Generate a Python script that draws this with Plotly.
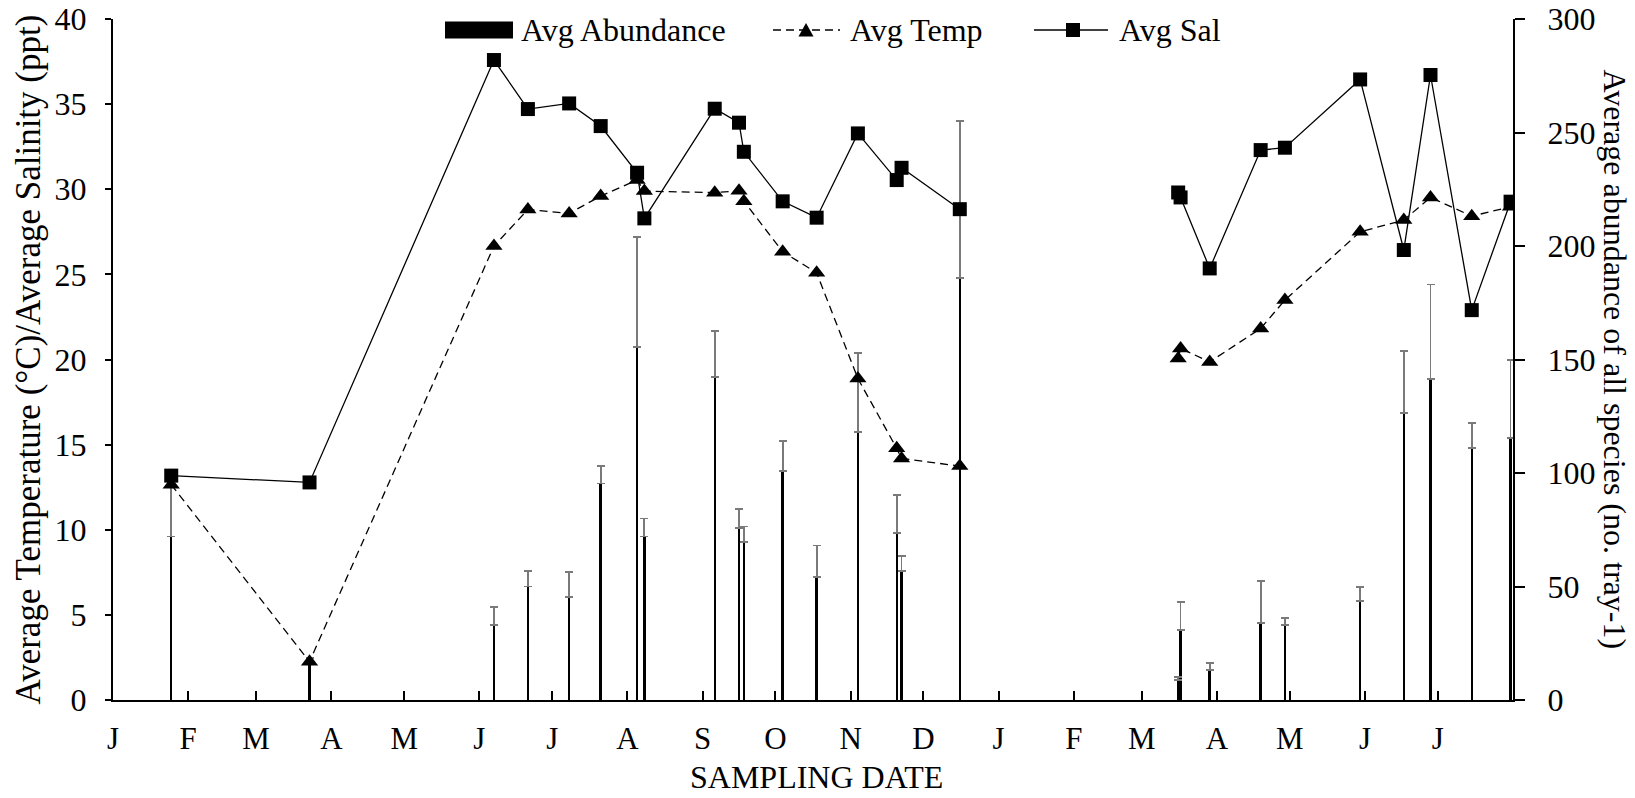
import plotly.graph_objects as go
import pandas as pd

# ---------------- data ----------------
dates_y1 = ["2010-01-25", "2010-03-23", "2010-06-07", "2010-06-21", "2010-07-08", "2010-07-21",
            "2010-08-05", "2010-08-08", "2010-09-06", "2010-09-16", "2010-09-18", "2010-10-04",
            "2010-10-18", "2010-11-04", "2010-11-20", "2010-11-22", "2010-12-16"]
temp_y1 = [12.65, 2.25, 26.66, 28.81, 28.58, 29.6, 30.54, 29.89, 29.8, 29.91, 29.3, 26.33,
           25.09, 18.88, 14.78, 14.19, 13.74]
sal_y1 = [13.18, 12.78, 37.59, 34.71, 35.04, 33.71, 30.97, 28.29, 34.73, 33.91, 32.2, 29.29,
          28.33, 33.28, 30.54, 31.26, 28.83]
abund_y1 = [72, 16, 33, 50, 45.5, 95.4, 155.6, 72, 142.4, 75.6, 69.5, 101, 54.3, 118, 73.7, 57, 186]
abund_err_y1 = [24, 2.4, 8, 7, 11, 7.6, 48.4, 8, 20.2, 8.7, 6.9, 13, 13.8, 34.7, 16.6, 6.6, 69]

dates_y2 = ["2011-03-16", "2011-03-17", "2011-03-29", "2011-04-19", "2011-04-29", "2011-05-30",
            "2011-06-17", "2011-06-28", "2011-07-15", "2011-07-31"]
temp_y2 = [20.06, 20.65, 19.86, 21.82, 23.49, 27.5, 28.19, 29.52, 28.42, 28.97]
sal_y2 = [29.81, 29.52, 25.35, 32.3, 32.44, 36.45, 26.43, 36.71, 22.9, 29.27]
abund_y2 = [8.8, 30.8, 13.2, 33.8, 32.9, 43.6, 126.6, 141.3, 110.9, 115.3]
abund_err_y2 = [1.5, 12.3, 3, 18.6, 3.2, 6.2, 27.1, 41.7, 11.3, 34.5]

month_ticks = [d.strftime("%Y-%m-%d") for d in pd.date_range("2010-01-01", "2011-07-01", freq="MS")]
month_labels = ["J", "F", "M", "A", "M", "J", "J", "A", "S", "O", "N", "D",
                "J", "F", "M", "A", "M", "J", "J"]

# ---------------- figure ----------------
W, H = 1635, 798
L, R, T, B = 113, 122, 19, 98
FONT = "'Liberation Serif', 'Times New Roman', Times, serif"

fig = go.Figure()

bar_x = dates_y1 + dates_y2
bar_y = abund_y1 + abund_y2
bar_err = abund_err_y1 + abund_err_y2
fig.add_trace(go.Bar(
    x=bar_x, y=bar_y, name="Avg Abundance", yaxis="y",
    width=[86400000 * 1.0] * len(bar_x),
    marker=dict(color="black", line=dict(width=0)),
    error_y=dict(type="data", symmetric=False, array=bar_err, arrayminus=[0] * len(bar_err),
                 color="#7a7a7a", thickness=1.8, width=4),
))

line_x = dates_y1 + [None] + dates_y2
fig.add_trace(go.Scatter(
    x=line_x, y=temp_y1 + [None] + temp_y2, name="Avg Temp", yaxis="y2",
    mode="lines+markers", connectgaps=False,
    line=dict(color="black", width=1.3, dash="8px,5px"),
    marker=dict(symbol="triangle-up", size=15, color="black"),
))
fig.add_trace(go.Scatter(
    x=line_x, y=sal_y1 + [None] + sal_y2, name="Avg Sal", yaxis="y2",
    mode="lines+markers", connectgaps=False,
    line=dict(color="black", width=1.3),
    marker=dict(symbol="square", size=14, color="black"),
))

fig.update_layout(
    width=W, height=H,
    margin=dict(l=L, r=R, t=T, b=B, pad=0, autoexpand=False),
    paper_bgcolor="white", plot_bgcolor="white",
    font=dict(family=FONT, size=31, color="black"),
    showlegend=False, bargap=0,
    xaxis=dict(
        type="date", range=["2010-01-01", "2011-08-01"],
        tickmode="array", tickvals=month_ticks, ticktext=month_labels,
        ticks="inside", ticklen=9, tickwidth=2, tickcolor="black",
        showline=True, linewidth=2, linecolor="black", automargin=False,
        showgrid=False, zeroline=False, ticklabelstandoff=10,
        tickfont=dict(family=FONT, size=31),
    ),
    yaxis=dict(
        range=[0, 300], dtick=50, side="right", automargin=False,
        ticks="outside", ticklen=10, tickwidth=2, tickcolor="black",
        showline=True, linewidth=2, linecolor="black",
        showgrid=False, zeroline=False, ticklabelstandoff=16,
        tickfont=dict(family=FONT, size=32),
    ),
    yaxis2=dict(
        range=[0, 40], dtick=5, side="left", overlaying="y", automargin=False,
        ticks="outside", ticklen=6, tickwidth=2, tickcolor="black",
        showline=True, linewidth=2, linecolor="black",
        showgrid=False, zeroline=False, ticklabelstandoff=12,
        tickfont=dict(family=FONT, size=32),
    ),
)

PW = W - L - R
PH = H - T - B


def px(x):
    return (x - L) / PW


def py(y):
    return (H - B - y) / PH


annotations = [
    dict(text="Average Temperature (°C)/Average Salinity (ppt)", x=px(28), y=0.5,
         xref="paper", yref="paper", textangle=-90, showarrow=False,
         xanchor="center", yanchor="middle", font=dict(family=FONT, size=35)),
    dict(text="Average abundance of all species (no. tray-1)", x=px(1615), y=0.5,
         xref="paper", yref="paper", textangle=90, showarrow=False,
         xanchor="center", yanchor="middle", font=dict(family=FONT, size=32)),
    dict(text="SAMPLING DATE", x=px(816), y=py(777), xref="paper", yref="paper",
         showarrow=False, xanchor="center", yanchor="middle", font=dict(family=FONT, size=32)),
    # legend texts
    dict(text="Avg Abundance", x=px(519), y=py(30), xref="paper", yref="paper",
         showarrow=False, xanchor="left", yanchor="middle", font=dict(family=FONT, size=32)),
    dict(text="Avg Temp", x=px(848), y=py(30), xref="paper", yref="paper",
         showarrow=False, xanchor="left", yanchor="middle", font=dict(family=FONT, size=32)),
    dict(text="Avg Sal", x=px(1117), y=py(30), xref="paper", yref="paper",
         showarrow=False, xanchor="left", yanchor="middle", font=dict(family=FONT, size=32)),
]

ly = 30
shapes = [
    # abundance legend swatch
    dict(type="rect", xref="paper", yref="paper", x0=px(445), x1=px(513), y0=py(38.5), y1=py(21.5),
         fillcolor="black", line=dict(width=0)),
    # temp legend
    dict(type="line", xref="paper", yref="paper", x0=px(773), x1=px(840), y0=py(ly), y1=py(ly),
         line=dict(color="black", width=1.3, dash="8px,5px")),
    dict(type="path", xref="paper", yref="paper",
         path=f"M {px(798.5)},{py(ly + 6.5)} L {px(813.5)},{py(ly + 6.5)} L {px(806)},{py(ly - 7)} Z",
         fillcolor="black", line=dict(width=0)),
    # sal legend
    dict(type="line", xref="paper", yref="paper", x0=px(1034), x1=px(1108), y0=py(ly), y1=py(ly),
         line=dict(color="black", width=1.3)),
    dict(type="rect", xref="paper", yref="paper", x0=px(1066), x1=px(1080), y0=py(ly + 7), y1=py(ly - 7),
         fillcolor="black", line=dict(width=0)),
]

fig.update_layout(annotations=annotations, shapes=shapes)

fig.write_html("out.html")
